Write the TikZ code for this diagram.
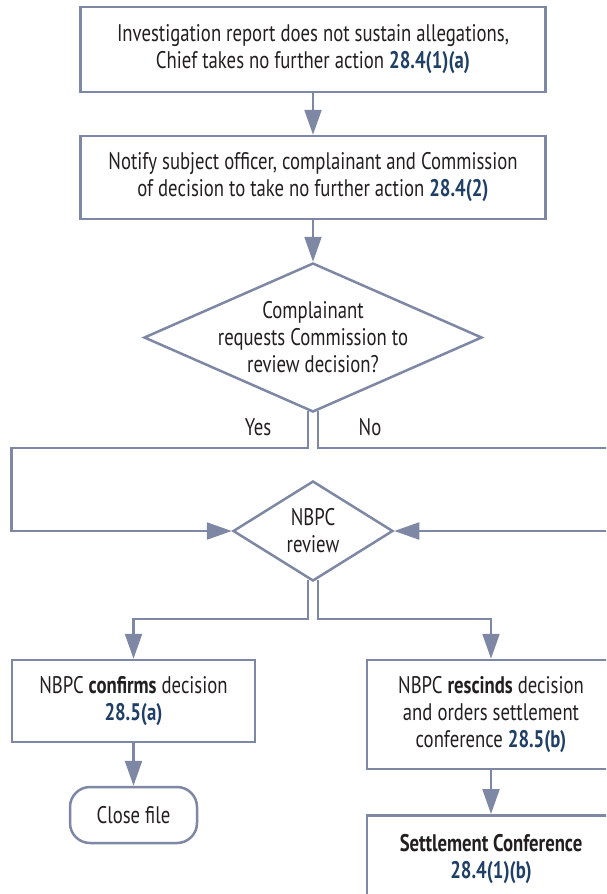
\documentclass[tikz,border=0pt]{standalone}
\usepackage{fontspec}
\setmainfont{PT Sans}[FakeStretch=0.78]
\usetikzlibrary{arrows.meta,shapes.geometric}
\definecolor{flowline}{HTML}{7E87A4}
\definecolor{refblue}{HTML}{1F3F66}
\definecolor{inktext}{HTML}{231F20}
\newcommand{\secref}[1]{\textcolor{refblue}{\textbf{#1}}}
\tikzset{
  stepbox/.style={draw=flowline, line width=2.5pt, fill=white, text=inktext, align=center, inner sep=0pt},
  endbox/.style={stepbox, rounded corners=20pt},
  decide/.style={diamond, draw=flowline, line width=2.5pt, fill=white, inner sep=0pt},
  plain/.style={text=inktext, align=center, inner sep=0pt},
  flow/.style={draw=flowline, line width=2.3pt, -{Triangle[length=25pt,width=17pt]}}
}
\begin{document}
\begin{tikzpicture}[x=1pt, y=-1pt, font=\fontsize{24}{27}\selectfont]
  \useasboundingbox (0,0) rectangle (606,894);
  \clip (0,0) rectangle (606,894);

  % boxes
  \node[stepbox, minimum width=465pt, minimum height=85pt] (report) at (313,49.5)
    {Investigation report does not sustain allegations,\\ Chief takes no further action \secref{28.4(1)(a)}};
  \node[stepbox, minimum width=465pt, minimum height=83pt] (notify) at (313,177.5)
    {Notify subject officer, complainant and Commission\\ of decision to take no further action \secref{28.4(2)}};
  \node[decide, minimum width=338pt, minimum height=149pt] (ask) at (313,337.5) {};
  \node[plain] (asktext) at (ask) {Complainant\\ requests Commission to\\ review decision?};
  \node[plain] (yes) at (258,427) {Yes};
  \node[plain] (no) at (370,427) {No};
  \node[decide, minimum width=160pt, minimum height=100pt] (review) at (313,531) {};
  \node[plain] (reviewtext) at (review) {NBPC\\ review};
  \node[stepbox, minimum width=243pt, minimum height=82pt] (confirm) at (133.5,701)
    {NBPC \textbf{confirms} decision\\ \secref{28.5(a)}};
  \node[endbox, minimum width=127pt, minimum height=56pt] (close) at (133.5,815) {Close file};
  \node[stepbox, minimum width=248pt, minimum height=109pt] (rescind) at (491,714.5)
    {NBPC \textbf{rescinds} decision\\ and orders settlement\\ conference \secref{28.5(b)}};
  \node[stepbox, anchor=north, minimum width=248pt, minimum height=88pt] (settle) at (491,814)
    {\textbf{Settlement Conference}\\ \secref{28.4(1)(b)}};

  \coordinate (yesturn) at (11.5,448);
  \coordinate (noturn) at (640,448);
  \coordinate (split) at (313,619);

  % connectors
  \begin{scope}[flow]
    \draw (report) to (notify);
    \draw (notify) to (ask);
    \draw ([xshift=-5pt,yshift=2pt]ask.south) |- (yesturn) |- (review.west);
    \draw ([xshift=5pt,yshift=2pt]ask.south) |- (noturn) |- (review.east);
    \draw ([xshift=-5pt,yshift=2pt]review.south) -- ([xshift=-5pt]split) -| (confirm.north);
    \draw ([xshift=5pt,yshift=2pt]review.south) -- ([xshift=5pt]split) -| (rescind.north);
    \draw (confirm) to (close);
    \draw (rescind) to (settle);
  \end{scope}
\end{tikzpicture}
\end{document}
